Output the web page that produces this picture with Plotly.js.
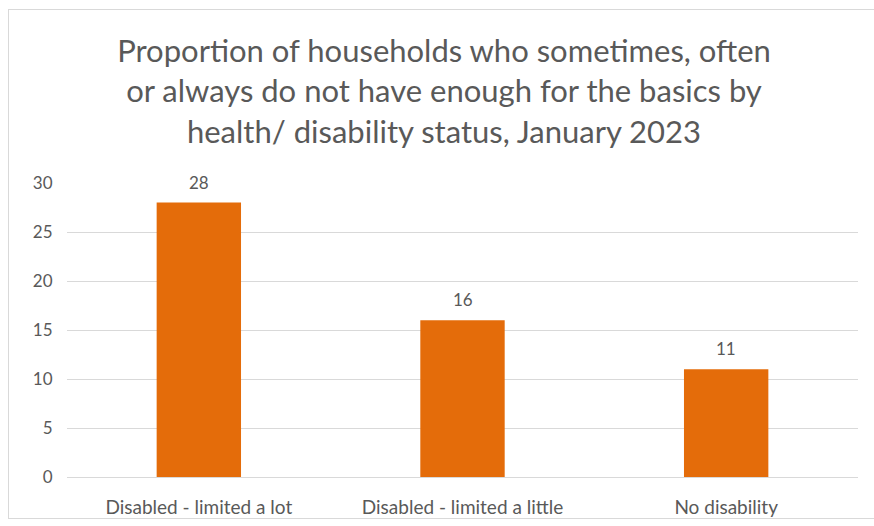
<!DOCTYPE html>
<html>
<head>
<meta charset="utf-8">
<script src="https://cdn.plot.ly/plotly-3.0.1.min.js"></script>
<style>
html,body{margin:0;padding:0;background:#fff;}
#chart{position:absolute;left:8px;top:9px;width:870px;height:508px;border:1px solid #d9d9d9;}
</style>
</head>
<body>
<div id="chart"></div>
<script>
const categories = ["Disabled - limited a lot", "Disabled - limited a little", "No disability"];
const values = [28, 16, 11];
const yTickValues = [0, 5, 10, 15, 20, 25, 30];
const titleText = "Proportion of households who sometimes, often<br>or always do not have enough for the basics by<br>health/ disability status, January 2023";

const fontFam = "Lato, 'Open Sans', sans-serif";
const grey = "#595959";

const data = [{
  type: "bar",
  x: categories,
  y: values,
  marker: {color: "#E46C0A"},
  hoverinfo: "none"
}];

const annotations = categories.map((c, i) => ({
  x: c, y: values[i], xref: "x", yref: "y",
  text: String(values[i]),
  showarrow: false, yanchor: "bottom", yshift: 8,
  font: {family: fontFam, size: 17, color: grey}
}));

const layout = {
  width: 870, height: 508,
  margin: {l: 58, r: 21, t: 173, b: 41},
  paper_bgcolor: "#fff", plot_bgcolor: "#fff",
  bargap: 0.68,
  showlegend: false,
  annotations: annotations,
  title: {
    text: titleText,
    font: {family: fontFam, size: 31, color: grey},
    x: 0.5, xanchor: "center",
    xref: "container",
    y: 1 - 52/508, yanchor: "middle", yref: "container"
  },
  xaxis: {
    tickfont: {family: fontFam, size: 19, color: grey},
    showline: false, showgrid: false,
    ticks: "outside", ticklen: 13, tickcolor: "rgba(0,0,0,0)",
    fixedrange: true
  },
  yaxis: {
    range: [0, 30],
    tickvals: yTickValues,
    tickfont: {family: fontFam, size: 17, color: grey},
    showgrid: true, gridcolor: "#d9d9d9", gridwidth: 1,
    zeroline: true, zerolinecolor: "#d9d9d9", zerolinewidth: 1,
    showline: false, ticks: "outside", ticklen: 10, tickcolor: "rgba(0,0,0,0)",
    fixedrange: true
  }
};

Plotly.newPlot("chart", data, layout, {displayModeBar: false, staticPlot: true});
</script>
</body>
</html>
